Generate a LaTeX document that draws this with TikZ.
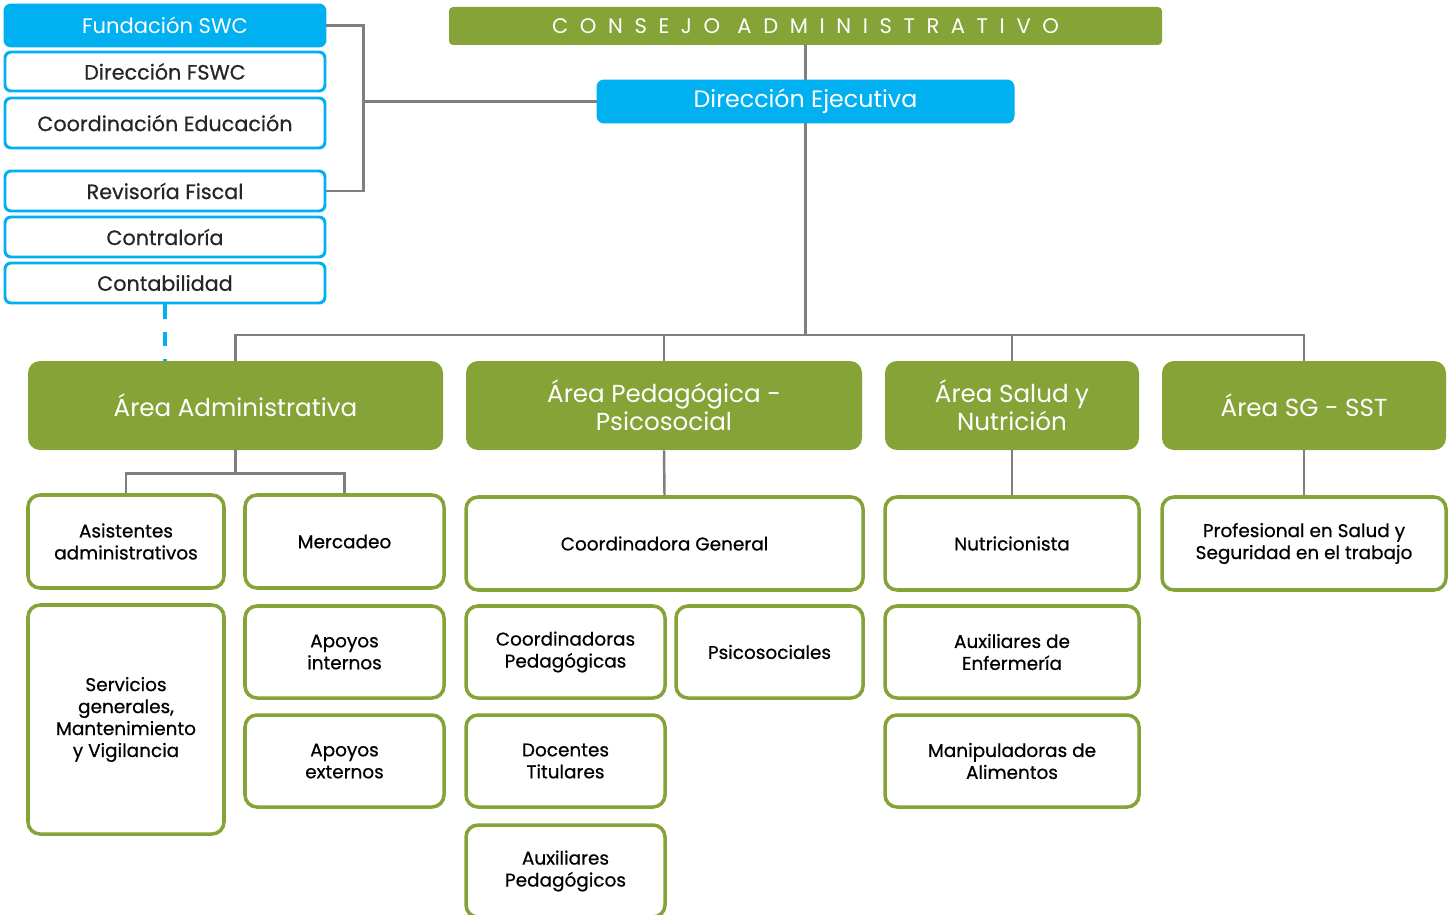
\documentclass[tikz,border=0pt]{standalone}
\usepackage{fontspec}
\setmainfont{Poppins}
\newfontfamily\medfont[FakeBold=0.6]{Poppins}
\usetikzlibrary{calc}
\definecolor{verde}{HTML}{86A338}
\definecolor{azul}{HTML}{00B0F0}
\definecolor{gris}{HTML}{7F7F7F}
\tikzset{
	wh/.style 2 args={minimum width=#1*0.02cm, minimum height=#2*0.02cm},
	greenhead/.style={fill=verde, rounded corners=0.24cm, text=white, font=\fontsize{14}{16}\selectfont, align=center, inner sep=0pt},
	greenbox/.style={draw=verde, line width=2pt, fill=white, rounded corners=0.24cm, font=\medfont\fontsize{10.5}{12.5}\selectfont, align=center, inner sep=0pt},
	bluebox/.style={draw=azul, line width=1.7pt, fill=white, rounded corners=0.12cm, text=black!85, font=\medfont\fontsize{11.8}{15}\selectfont, inner sep=0pt},
	bluehead/.style={bluebox, fill=azul, text=white, font=\fontsize{12}{15}\selectfont},
	conn/.style={draw=gris, line width=1.4pt},
	dashlink/.style={draw=azul, line width=2pt, dash pattern=on 0.29cm off 0.26cm},
}

\begin{document}
\begin{tikzpicture}[x=0.02cm, y=-0.02cm]
	%%%%% START %%%%%
	\useasboundingbox (0,0) rectangle (1452,915);
	
	% columna azul
	\node[bluehead, wh={320}{41}] (fund) at (165,25.5) {Fundación SWC};
	\node[bluebox, wh={320}{39}] (dirf) at (165,71.5) {Dirección FSWC};
	\node[bluebox, wh={320}{50}] (coord) at (165,123) {Coordinación Educación};
	\node[bluebox, wh={320}{40}] (revis) at (165,191) {Revisoría Fiscal};
	\node[bluebox, wh={320}{40}] (contra) at (165,237) {Contraloría};
	\node[bluebox, wh={320}{40}] (conta) at (165,283) {Contabilidad};
	
	% cabeza
	\node[fill=verde, rounded corners=0.08cm, text=white, wh={713}{38}, inner sep=0pt,
		font=\fontsize{12}{14}\selectfont\addfontfeature{LetterSpace=55}] (consejo) at (805.5,26) {CONSEJO ADMINISTRATIVO};
	\node[bluehead, wh={415}{41}, font=\fontsize{13.5}{16}\selectfont] (direj) at (805.5,101.5) {Dirección Ejecutiva};
	
	% areas
	\node[greenhead, wh={415}{89}] (aadm) at (235.5,405.5) {Área Administrativa};
	\node[greenhead, wh={396}{89}] (aped) at (664,405.5) {Área Pedagógica -\\Psicosocial};
	\node[greenhead, wh={254}{89}] (asal) at (1012,405.5) {Área Salud y\\Nutrición};
	\node[greenhead, wh={284}{89}] (asg) at (1304,405.5) {Área SG - SST};
	
	% cargos
	\node[greenbox, wh={196}{93}] (asist) at (126,541.5) {Asistentes\\administrativos};
	\node[greenbox, wh={199}{93}] (merc) at (344.5,541.5) {Mercadeo};
	\node[greenbox, wh={397}{93}] (cgen) at (664.5,543.5) {Coordinadora General};
	\node[greenbox, wh={254}{93}] (nutri) at (1012,543.5) {Nutricionista};
	\node[greenbox, wh={284}{93}] (prof) at (1304,543.5) {Profesional en Salud y\\Seguridad en el trabajo};
	
	\node[greenbox, wh={196}{229}] (serv) at (126,719.5) {Servicios\\generales,\\Mantenimiento\\y Vigilancia};
	\node[greenbox, wh={199}{92}] (apint) at (344.5,652) {Apoyos\\internos};
	\node[greenbox, wh={199}{92}] (apext) at (344.5,761) {Apoyos\\externos};
	\node[greenbox, wh={199}{92}] (cped) at (565.5,652) {Coordinadoras\\Pedagógicas};
	\node[greenbox, wh={187}{92}] (psico) at (769.5,652) {Psicosociales};
	\node[greenbox, wh={199}{92}] (docen) at (565.5,761) {Docentes\\Titulares};
	\node[greenbox, wh={199}{92}] (auxped) at (565.5,871) {Auxiliares\\Pedagógicos};
	\node[greenbox, wh={254}{92}] (auxenf) at (1012,652) {Auxiliares de\\Enfermería};
	\node[greenbox, wh={254}{92}] (manip) at (1012,761) {Manipuladoras de\\Alimentos};
	
	% lineas
	\coordinate (brk) at (362,101.5);
	\coordinate (bus) at (805.5,335);
	\draw[conn] (fund.east) -- ++(37,0) |- (revis.east);
	\draw[conn] (direj.west) -- (brk);
	\draw[conn] (consejo.south) -- (direj.north);
	\draw[conn] (direj.south) -- (bus);
	\foreach \a in {aadm,aped,asal,asg}
		\draw[conn] (bus) -| (\a.north);
	\draw[conn] (aadm.south) -- ++(0,23) -| (asist.north);
	\draw[conn] (aadm.south) -- ++(0,23) -| (merc.north);
	\draw[conn] (aped.south) -- (cgen.north);
	\draw[conn] (asal.south) -- (nutri.north);
	\draw[conn] (asg.south) -- (prof.north);
	\draw[dashlink] (conta.south) -- (conta.south |- aadm.north);
	%%%%% END %%%%%
\end{tikzpicture}
\end{document}
